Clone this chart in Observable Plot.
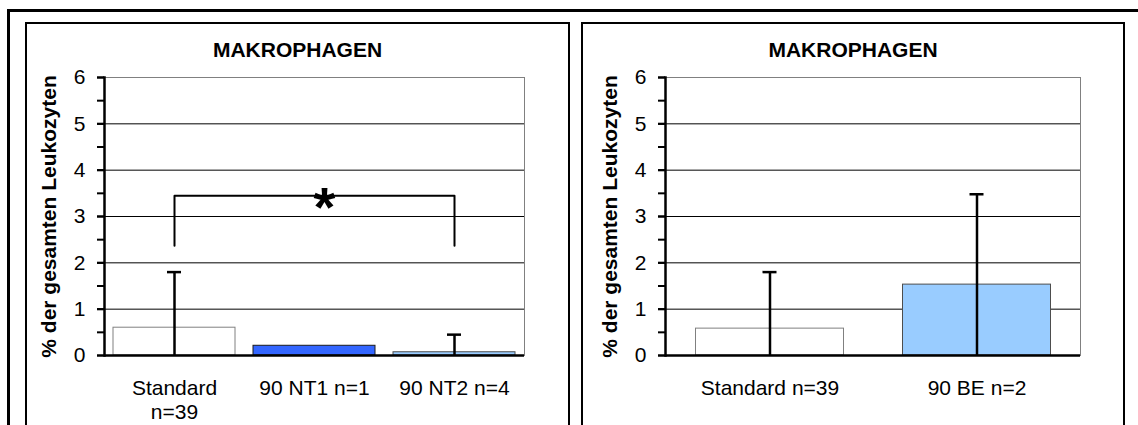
<!DOCTYPE html>
<html>
<head>
<meta charset="utf-8">
<script src="https://cdn.jsdelivr.net/npm/d3@7"></script>
<script src="https://cdn.jsdelivr.net/npm/@observablehq/plot@0.6"></script>
<style>
  body { margin: 0; background: #fff; overflow: hidden; }
  #root { position: relative; width: 1138px; height: 425px; overflow: hidden; font-family: "Liberation Sans", Arial, sans-serif; color: #000; }
  .outer { position: absolute; left: 7px; top: 9px; width: 1200px; height: 500px; border: 3px solid #000; box-sizing: border-box; }
  .inner { position: absolute; top: 22px; height: 500px; border: 2px solid #000; box-sizing: border-box; }
  .title { position: absolute; top: 39px; font-weight: bold; font-size: 21px; line-height: 21px; text-align: center; }
  .plot { position: absolute; top: 24px; }
</style>
</head>
<body>
<div id="root">
  <div class="outer"></div>
  <div class="inner" style="left:25px;width:545px;"></div>
  <div class="inner" style="left:581px;width:544px;"></div>
  <div class="title" id="t1" style="left:25px;width:545px;"></div>
  <div class="title" id="t2" style="left:581px;width:544px;"></div>
  <div class="plot" id="p1" style="left:27px;"></div>
  <div class="plot" id="p2" style="left:584px;"></div>
</div>
<script>
// ---- data ----
const titleText = "MAKROPHAGEN";
const yLabel = "% der gesamten Leukozyten";

const leftCategories = ["Standard\nn=39", "90 NT1 n=1", "90 NT2 n=4"];
const leftMeans = [0.6, 0.21, 0.07];
const leftErrorTops = [1.8, null, 0.45];
const leftFills = ["#ffffff", "#3366ff", "#99ccff"];
const leftStrokes = ["#808080", "#1a1a1a", "#4d4d4d"];

const rightCategories = ["Standard n=39", "90 BE n=2"];
const rightMeans = [0.58, 1.53];
const rightErrorTops = [1.8, 3.48];
const rightFills = ["#ffffff", "#99ccff"];
const rightStrokes = ["#808080", "#4d4d4d"];

const yTickValues = [0, 1, 2, 3, 4, 5, 6];
const yTickLabels = ["0", "1", "2", "3", "4", "5", "6"];
const yMinorTickValues = [0, 0.5, 1, 1.5, 2, 2.5, 3, 3.5, 4, 4.5, 5, 5.5, 6];
const gridValues = [1, 2, 3, 4, 5];

// significance bracket (left panel)
const bracketFrom = "Standard\nn=39";
const bracketTo = "90 NT2 n=4";
const bracketTop = 3.45;
const bracketBottom = 2.37;
const bracketMid = "90 NT1 n=1";
const bracketLabel = "*";

function panel({categories, means, errorTops, fills, strokes, width, marginLeft, marginRight, barInset, capInset, extra}) {
  const bars = categories.map((c, i) => ({cat: c, mean: means[i], fill: fills[i], stroke: strokes[i]}));
  const errs = categories.map((c, i) => ({cat: c, err: errorTops[i]})).filter(d => d.err != null);
  return Plot.plot({
    width, height: 402,
    marginLeft, marginRight, marginTop: 53, marginBottom: 71,
    style: {fontFamily: "Liberation Sans, Arial, sans-serif", fontSize: "21px", color: "#000", background: "transparent", overflow: "visible"},
    x: {domain: categories, padding: 0, axis: null},
    y: {domain: [0, 6], axis: null},
    color: {type: "identity"},
    marks: [
      Plot.ruleY(gridValues, {stroke: "#000", strokeWidth: 1}),
      Plot.frame({stroke: "#808080", strokeWidth: 1}),
      Plot.barY(bars, {x: "cat", y: "mean", fill: "fill", stroke: "stroke", strokeWidth: 1, insetLeft: barInset, insetRight: barInset}),
      Plot.ruleX(errs, {x: "cat", y1: 0, y2: "err", stroke: "#000", strokeWidth: 2.5}),
      Plot.tickY(errs, {x: "cat", y: "err", stroke: "#000", strokeWidth: 2.5, insetLeft: capInset, insetRight: capInset}),
      ...(extra || []),
      Plot.ruleY([0], {stroke: "#000", strokeWidth: 2.5}),
      Plot.frame({anchor: "left", stroke: "#000", strokeWidth: 2.5}),
      Plot.axisY({ticks: yMinorTickValues, tickSize: 7, stroke: "#000", strokeWidth: 2, tickFormat: () => "", label: null}),
      Plot.axisY({ticks: yTickValues, tickSize: 7, tickPadding: 12, stroke: "#000", strokeWidth: 2, fill: "#000", label: null,
                  tickFormat: (d) => yTickLabels[yTickValues.indexOf(d)]}),
      Plot.axisX({tickSize: 0, tickPadding: 22, fill: "#000", lineHeight: 1.15, label: null}),
      Plot.text([yLabel], {frameAnchor: "left", rotate: -90, dx: -63, lineAnchor: "top", textAnchor: "middle", fontWeight: "bold", fill: "#000"})
    ]
  });
}

const bracketPts = [
  {cat: bracketFrom, v: bracketBottom},
  {cat: bracketFrom, v: bracketTop},
  {cat: bracketTo, v: bracketTop},
  {cat: bracketTo, v: bracketBottom}
];

document.getElementById("t1").textContent = titleText;
document.getElementById("t2").textContent = titleText;

document.getElementById("p1").append(panel({
  categories: leftCategories, means: leftMeans, errorTops: leftErrorTops, fills: leftFills, strokes: leftStrokes,
  width: 540, marginLeft: 77, marginRight: 43, barInset: 9, capInset: 63,
  extra: [
    Plot.line(bracketPts, {x: "cat", y: "v", stroke: "#000", strokeWidth: 2}),
    Plot.text([{cat: bracketMid, v: bracketTop, t: bracketLabel}], {x: "cat", y: "v", text: "t", fontSize: 56, fontWeight: "bold", fill: "#000", dx: 10, dy: 12})
  ]
}));

document.getElementById("p2").append(panel({
  categories: rightCategories, means: rightMeans, errorTops: rightErrorTops, fills: rightFills, strokes: rightStrokes,
  width: 537, marginLeft: 81, marginRight: 41, barInset: 29.5, capInset: 96.5
}));
</script>
</body>
</html>
